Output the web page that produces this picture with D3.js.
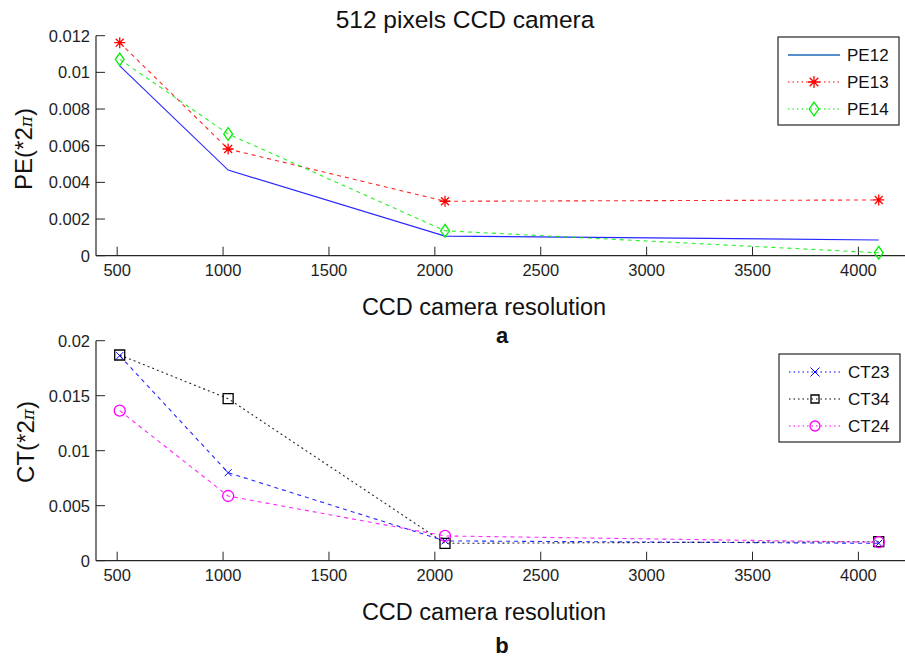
<!DOCTYPE html>
<html>
<head>
<meta charset="utf-8">
<script src="https://cdn.jsdelivr.net/npm/d3@7"></script>
<style>
  html, body { margin: 0; padding: 0; background: #fff; }
  svg { display: block; font-family: Arial, "Liberation Sans", Helvetica, sans-serif; }
</style>
</head>
<body>
<svg id="chart" width="905" height="657"></svg>
<script>
// CCD camera resolution (x values shared by both panels)
const resolution = [512, 1024, 2048, 4096];
const xTicks = [500, 1000, 1500, 2000, 2500, 3000, 3500, 4000];

// Panel a: phase error PE (in units of 2π)
const pe12 = [0.01035, 0.00467, 0.00107, 0.00086];
const pe13 = [0.01162, 0.00582, 0.00297, 0.00304];
const pe14 = [0.01071, 0.00664, 0.00136, 0.00016];
const peTicks = [0, 0.002, 0.004, 0.006, 0.008, 0.01, 0.012];
const peTickLabels = ["0", "0.002", "0.004", "0.006", "0.008", "0.01", "0.012"];

// Panel b: crosstalk CT (in units of 2π)
const ct23 = [0.01864, 0.0080, 0.00180, 0.00158];
const ct34 = [0.01870, 0.01473, 0.00158, 0.00173];
const ct24 = [0.01364, 0.00588, 0.00225, 0.00168];
const ctTicks = [0, 0.005, 0.01, 0.015, 0.02];
const ctTickLabels = ["0", "0.005", "0.01", "0.015", "0.02"];

const svg = d3.select("#chart");
const x = d3.scaleLinear().domain([400, 4220]).range([96, 905]);

// marker shapes, drawn as paths centred at 0,0
function markerPath(kind, s) {
  const p = d3.path();
  if (kind === "star") {
    p.moveTo(-s, 0); p.lineTo(s, 0);
    p.moveTo(0, -s); p.lineTo(0, s);
    const d = s * 0.72;
    p.moveTo(-d, -d); p.lineTo(d, d);
    p.moveTo(-d, d); p.lineTo(d, -d);
  } else if (kind === "diamond") {
    const w = s * 0.8, h = s * 1.15;
    p.moveTo(0, -h); p.lineTo(w, 0); p.lineTo(0, h); p.lineTo(-w, 0); p.closePath();
  } else if (kind === "x") {
    p.moveTo(-s, -s); p.lineTo(s, s);
    p.moveTo(-s, s); p.lineTo(s, -s);
  } else if (kind === "square") {
    p.rect(-s, -s, 2 * s, 2 * s);
  } else if (kind === "circle") {
    p.arc(0, 0, s, 0, 2 * Math.PI);
  }
  return p.toString();
}

function panel(cfg) {
  const y = d3.scaleLinear().domain(cfg.domain).range(cfg.yRange);
  const g = svg.append("g");
  const x0 = x.range()[0], yb = y.range()[0], yt = y.range()[1];

  // axes (left and bottom only, ticks pointing inward)
  const axisColor = "#262626";
  g.append("line").attr("x1", x0).attr("x2", x.range()[1]).attr("y1", yb).attr("y2", yb)
    .attr("stroke", axisColor).attr("stroke-width", 1.2);
  g.append("line").attr("x1", x0).attr("x2", x0).attr("y1", yb).attr("y2", yt)
    .attr("stroke", axisColor).attr("stroke-width", 1.2);

  xTicks.forEach(t => {
    g.append("line").attr("x1", x(t)).attr("x2", x(t)).attr("y1", yb).attr("y2", yb - 9)
      .attr("stroke", axisColor).attr("stroke-width", 1);
    g.append("text").attr("x", x(t)).attr("y", yb + 20).attr("text-anchor", "middle")
      .attr("font-size", 16.5).attr("fill", "#1e1e1e").text(String(t));
  });
  cfg.ticks.forEach((t, i) => {
    g.append("line").attr("x1", x0).attr("x2", x0 + 9).attr("y1", y(t)).attr("y2", y(t))
      .attr("stroke", axisColor).attr("stroke-width", 1);
    g.append("text").attr("x", x0 - 6).attr("y", y(t) + 6).attr("text-anchor", "end")
      .attr("font-size", 16.5).attr("fill", "#1e1e1e").text(cfg.tickLabels[i]);
  });

  // y axis label with a Greek pi
  const yl = g.append("text")
    .attr("transform", `translate(${cfg.yLabelX},${cfg.yLabelY}) rotate(-90)`)
    .attr("text-anchor", "middle").attr("font-size", 24).attr("fill", "#111");
  yl.append("tspan").text(cfg.yLabel + "(*2");
  yl.append("tspan").attr("font-size", 17).attr("font-style", "italic").attr("font-family", "'DejaVu Serif', serif").text("π");
  yl.append("tspan").text(")");

  // x axis label and panel letter
  g.append("text").attr("x", 484).attr("y", cfg.xLabelY).attr("text-anchor", "middle")
    .attr("font-size", 23.5).attr("fill", "#111").text("CCD camera resolution");
  g.append("text").attr("x", 502).attr("y", cfg.letterY).attr("text-anchor", "middle")
    .attr("font-size", 22).attr("font-weight", "bold").attr("fill", "#111").text(cfg.letter);

  // series lines and markers
  const line = d3.line().x((d, i) => x(resolution[i])).y(d => y(d));
  cfg.series.forEach(s => {
    g.append("path").attr("d", line(s.values)).attr("fill", "none")
      .attr("stroke", s.color).attr("stroke-width", 1.1)
      .attr("stroke-dasharray", s.dash || null).attr("opacity", 0.85);
    if (s.marker) {
      s.values.forEach((v, i) => {
        g.append("path").attr("d", markerPath(s.marker, s.size))
          .attr("transform", `translate(${x(resolution[i])},${y(v)})`)
          .attr("fill", "none").attr("stroke", s.color).attr("stroke-width", s.markerWidth || 1.3);
      });
    }
  });

  // legend
  const L = cfg.legend;
  g.append("rect").attr("x", L.x).attr("y", L.y).attr("width", L.w).attr("height", L.h)
    .attr("fill", "#fff").attr("stroke", "#262626").attr("stroke-width", 1.2);
  cfg.series.forEach((s, i) => {
    const ly = L.y + 18 + i * 27;
    g.append("line").attr("x1", L.x + 10).attr("x2", L.x + 62).attr("y1", ly).attr("y2", ly)
      .attr("stroke", s.legendColor || s.color).attr("stroke-width", s.legendDash ? 1.2 : 2)
      .attr("stroke-dasharray", s.legendDash || null);
    if (s.marker) {
      g.append("path").attr("d", markerPath(s.marker, s.legendSize))
        .attr("transform", `translate(${L.x + 36},${ly})`)
        .attr("fill", "none").attr("stroke", s.color).attr("stroke-width", s.markerWidth || 1.3);
    }
    g.append("text").attr("x", L.x + 69).attr("y", ly + 6).attr("font-size", 17)
      .attr("fill", "#111").text(s.name);
  });
}

// title
svg.append("text").attr("x", 465).attr("y", 28).attr("text-anchor", "middle")
  .attr("font-size", 24.5).attr("fill", "#111").text("512 pixels CCD camera");

panel({
  domain: [0, 0.012], yRange: [255.7, 35.7],
  ticks: peTicks, tickLabels: peTickLabels,
  yLabel: "PE", yLabelX: 32, yLabelY: 149,
  xLabelY: 315, letter: "a", letterY: 343,
  legend: { x: 778, y: 37, w: 121, h: 88 },
  series: [
    { name: "PE12", values: pe12, color: "#0000ff", legendColor: "#5590cc", size: 0, legendSize: 0 },
    { name: "PE13", values: pe13, color: "#ff0000", dash: "4,4", legendDash: "1.5,3", marker: "star", size: 5.5, legendSize: 6 },
    { name: "PE14", values: pe14, color: "#00ee00", dash: "4,4", legendDash: "1.5,3", marker: "diamond", size: 5.5, legendSize: 6 }
  ]
});

panel({
  domain: [0, 0.02], yRange: [560.7, 340.7],
  ticks: ctTicks, tickLabels: ctTickLabels,
  yLabel: "CT", yLabelX: 34, yLabelY: 442,
  xLabelY: 620, letter: "b", letterY: 653,
  legend: { x: 779, y: 354, w: 121, h: 88 },
  series: [
    { name: "CT23", values: ct23, color: "#0000ff", dash: "4,4", legendDash: "1.5,3", marker: "x", size: 3.5, legendSize: 4.5, markerWidth: 1 },
    { name: "CT34", values: ct34, color: "#000000", dash: "2,3", legendDash: "1.5,3", marker: "square", size: 5, legendSize: 4 },
    { name: "CT24", values: ct24, color: "#ff00ff", dash: "4,4", legendDash: "1.5,3", marker: "circle", size: 5.5, legendSize: 5 }
  ]
});
</script>
</body>
</html>
